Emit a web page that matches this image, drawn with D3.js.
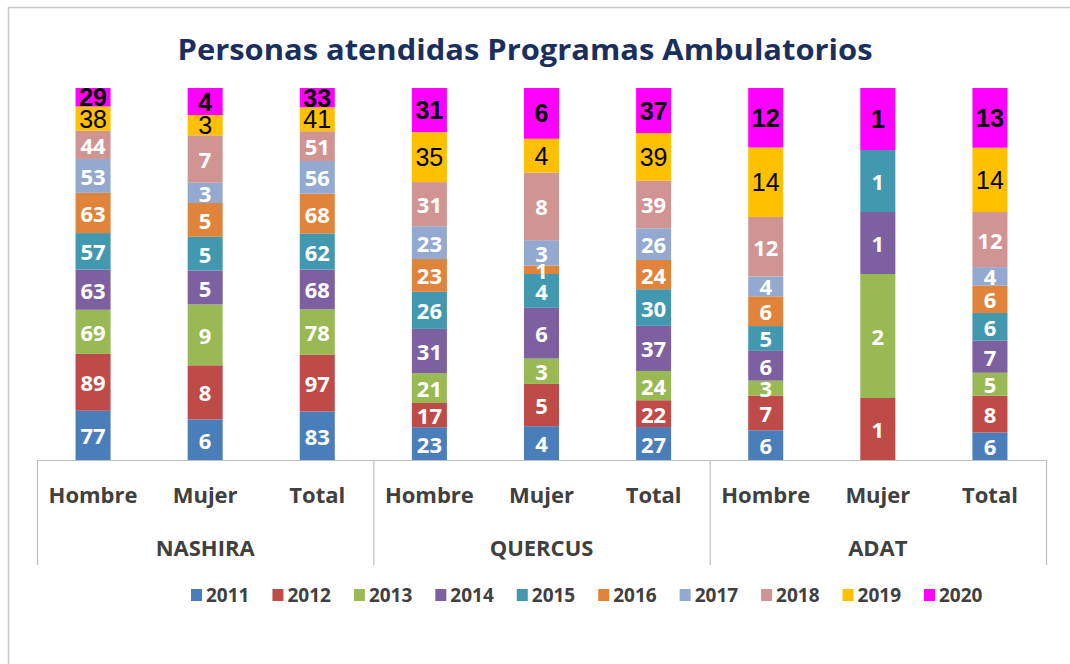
<!DOCTYPE html>
<html>
<head>
<meta charset="utf-8">
<script src="https://cdn.jsdelivr.net/npm/d3@7"></script>
<style>
  html, body { margin: 0; padding: 0; background: #fff; }
  svg { display: block; }
</style>
</head>
<body>
<script>
// ---- Data ----
const title = "Personas atendidas Programas Ambulatorios";
const groups = ["NASHIRA", "QUERCUS", "ADAT"];
const categories = ["Hombre", "Mujer", "Total"];
const years = ["2011","2012","2013","2014","2015","2016","2017","2018","2019","2020"];
// order of columns: NASHIRA H/M/T, QUERCUS H/M/T, ADAT H/M/T
const v2011 = [77, 6, 83, 23, 4, 27, 6, 0, 6];
const v2012 = [89, 8, 97, 17, 5, 22, 7, 1, 8];
const v2013 = [69, 9, 78, 21, 3, 24, 3, 2, 5];
const v2014 = [63, 5, 68, 31, 6, 37, 6, 1, 7];
const v2015 = [57, 5, 62, 26, 4, 30, 5, 1, 6];
const v2016 = [63, 5, 68, 23, 1, 24, 6, 0, 6];
const v2017 = [53, 3, 56, 23, 3, 26, 4, 0, 4];
const v2018 = [44, 7, 51, 31, 8, 39, 12, 0, 12];
const v2019 = [38, 3, 41, 35, 4, 39, 14, 0, 14];
const v2020 = [29, 4, 33, 31, 6, 37, 12, 1, 13];
const colors = ["#4a7ebb","#be4b48","#98b954","#7d60a0","#4198af","#e0843c","#93a9d0","#d09493","#ffc000","#ff00ff"];

const seriesValues = [v2011, v2012, v2013, v2014, v2015, v2016, v2017, v2018, v2019, v2020];

// Build table rows
const rows = [];
groups.forEach((g, gi) => {
  categories.forEach((c, ci) => {
    const r = { group: g, cat: c, key: g + "|" + c };
    years.forEach((y, yi) => { r[y] = seriesValues[yi][gi * 3 + ci]; });
    rows.push(r);
  });
});

const W = 1070, H = 664;
const svg = d3.select("body").append("svg").attr("width", W).attr("height", H);

// chart border
svg.append("rect").attr("x", 8.5).attr("y", 7.5).attr("width", W + 10).attr("height", H + 10)
  .attr("fill", "#fff").attr("stroke", "#c8c8c8").attr("stroke-width", 1.5);

// title
svg.append("text").attr("x", 525).attr("y", 60).attr("text-anchor", "middle")
  .attr("font-family", "'Open Sans', 'Noto Sans', sans-serif").attr("font-weight", 700)
  .attr("font-size", 28).attr("fill", "#1a2f5e")
  .attr("textLength", 695).attr("lengthAdjust", "spacingAndGlyphs")
  .text(title);

const plotTop = 88, plotBottom = 460, plotLeft = 37, plotRight = 1046;

const xGroup = d3.scaleBand().domain(groups).range([plotLeft, plotRight]).padding(0);
const xCat = d3.scaleBand().domain(categories).range([0, xGroup.bandwidth()])
  .paddingInner(0.6875).paddingOuter(0.34375);
const y = d3.scaleLinear().domain([0, 1]).range([plotBottom, plotTop]);

const stack = d3.stack().keys(years).offset(d3.stackOffsetExpand);
const stacked = stack(rows);

const layer = svg.append("g").selectAll("g").data(stacked).join("g")
  .attr("fill", (d, i) => colors[i]);

layer.selectAll("rect").data(d => d).join("rect")
  .attr("x", d => xGroup(d.data.group) + xCat(d.data.cat))
  .attr("width", xCat.bandwidth())
  .attr("y", d => y(d[1]))
  .attr("height", d => Math.max(0, y(d[0]) - y(d[1])));

// data labels
const labels = svg.append("g");
stacked.forEach((s, si) => {
  s.forEach(d => {
    const val = d.data[s.key];
    if (!val) return;
    const cx = xGroup(d.data.group) + xCat(d.data.cat) + xCat.bandwidth() / 2;
    const cy = (y(d[0]) + y(d[1])) / 2;
    const t = labels.append("text").attr("x", cx).attr("y", cy)
      .attr("text-anchor", "middle").attr("dominant-baseline", "central")
      .text(val);
    if (s.key === "2020") {
      t.attr("font-family", "'Liberation Sans', Arial, sans-serif").attr("font-weight", 700)
        .attr("font-size", 25).attr("fill", "#000");
    } else if (s.key === "2019") {
      t.attr("font-family", "'Liberation Sans', Arial, sans-serif").attr("font-weight", 400)
        .attr("font-size", 25).attr("fill", "#000");
    } else {
      t.attr("font-family", "'Open Sans', 'Noto Sans', sans-serif").attr("font-weight", 700)
        .attr("font-size", 22).attr("fill", "#fff");
    }
  });
});

// axis
const axis = svg.append("g").attr("stroke", "#bfbfbf").attr("stroke-width", 1.2);
axis.append("line").attr("x1", plotLeft).attr("x2", plotRight)
  .attr("y1", plotBottom + 0.5).attr("y2", plotBottom + 0.5);
const bounds = groups.map(g => xGroup(g)).concat([plotRight]);
bounds.forEach(bx => {
  axis.append("line").attr("x1", bx + 0.5).attr("x2", bx + 0.5)
    .attr("y1", plotBottom).attr("y2", 565);
});

const axText = svg.append("g").attr("font-family", "'Open Sans', 'Noto Sans', sans-serif")
  .attr("font-weight", 700).attr("font-size", 22).attr("fill", "#404040")
  .attr("text-anchor", "middle");
groups.forEach(g => {
  categories.forEach(c => {
    axText.append("text")
      .attr("x", xGroup(g) + xCat(c) + xCat.bandwidth() / 2)
      .attr("y", 503).text(c);
  });
  axText.append("text").attr("x", xGroup(g) + xGroup.bandwidth() / 2)
    .attr("y", 556).text(g);
});

// legend
const legend = svg.append("g").attr("font-family", "'Open Sans', 'Noto Sans', sans-serif")
  .attr("font-weight", 700).attr("font-size", 19).attr("fill", "#404040");
const lx = d3.scalePoint().domain(years).range([191, 924]);
years.forEach((yr, i) => {
  legend.append("rect").attr("x", lx(yr)).attr("y", 589).attr("width", 11).attr("height", 12)
    .attr("fill", colors[i]);
  legend.append("text").attr("x", lx(yr) + 15).attr("y", 602).text(yr);
});
</script>
</body>
</html>
